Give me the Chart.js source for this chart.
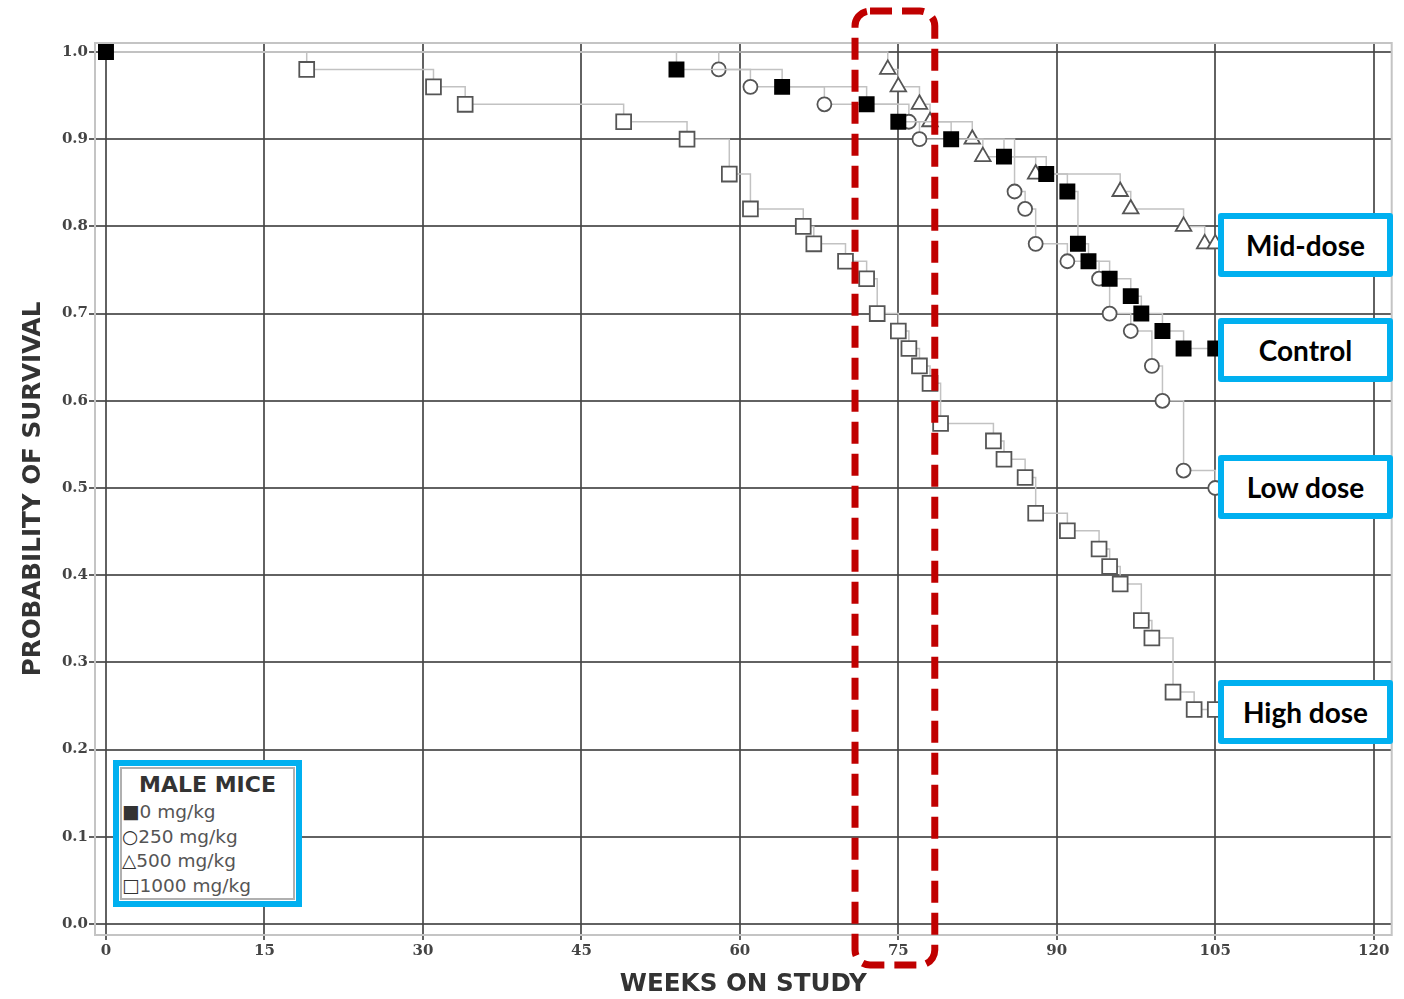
<!DOCTYPE html>
<html>
<head>
<meta charset="utf-8">
<script src="https://cdn.jsdelivr.net/npm/chart.js@4.4.1/dist/chart.umd.min.js"></script>
<style>
  body { margin: 0; background: #fff; }
  #wrap { position: relative; width: 1404px; height: 999px; }
  .tag {
    position: absolute; box-sizing: border-box; left: 1218px; width: 175px; height: 64px;
    border: 6px solid #00b0f0; border-radius: 3px; background: #fff;
    display: flex; align-items: center; justify-content: center;
    font: bold 28px Lato, "Open Sans", sans-serif; color: #000;
  }
  #legend {
    position: absolute; box-sizing: border-box; left: 113px; top: 760px; width: 189px; height: 147px;
    border: 6px solid #00b0f0; background: #fff;
  }
  #legend .inner {
    position: absolute; left: 1px; top: 1px; right: 1px; bottom: 1px; border: 2px solid #b0b0b0;
    font-family: "DejaVu Sans", sans-serif; color: #555;
  }
  #legend .lt { text-align: center; font-weight: bold; font-size: 22px; color: #333; line-height: 26px; margin: 3px 0 2px; }
  #legend .le { font-size: 18.5px; line-height: 24.5px; white-space: nowrap; }
  #legend .sym { color: #333; }
</style>
</head>
<body>
<div id="wrap">
  <canvas id="chart" width="1404" height="999"></canvas>
  <div class="tag" style="top:213px">Mid-dose</div>
  <div class="tag" style="top:318px">Control</div>
  <div class="tag" style="top:455px">Low dose</div>
  <div class="tag" style="top:680px">High dose</div>
  <div id="legend"><div class="inner"><div class="lt">MALE MICE</div></div></div>
</div>
<script>
// Kaplan-Meier survival, male mice
const seriesLabels = ['0 mg/kg', '250 mg/kg', '500 mg/kg', '1000 mg/kg'];
const legendSymbols = ['\u25A0', '\u25CB', '\u25B3', '\u25A1'];

const controlWeeks = [0, 54, 64, 72, 75, 80, 85, 89, 91, 92, 93, 95, 97, 98, 100, 102, 105];
const controlSurv  = [1.0, 0.98, 0.96, 0.94, 0.92, 0.90, 0.88, 0.86, 0.84, 0.78, 0.76, 0.74, 0.72, 0.70, 0.68, 0.66, 0.66];

const lowWeeks = [0, 58, 61, 68, 76, 77, 86, 87, 88, 91, 94, 95, 97, 99, 100, 102, 105];
const lowSurv  = [1.0, 0.98, 0.96, 0.94, 0.92, 0.90, 0.84, 0.82, 0.78, 0.76, 0.74, 0.70, 0.68, 0.64, 0.60, 0.52, 0.50];

const midWeeks = [0, 74, 75, 77, 78, 82, 83, 88, 96, 97, 102, 104, 105];
const midSurv  = [1.0, 0.98, 0.96, 0.94, 0.92, 0.90, 0.88, 0.86, 0.84, 0.82, 0.80, 0.78, 0.78];

const highWeeks = [0, 19, 31, 34, 49, 55, 59, 61, 66, 67, 70, 72, 73, 75, 76, 77, 78, 79, 84, 85, 87, 88, 91, 94, 95, 96, 98, 99, 101, 103, 105];
const highSurv  = [1.0, 0.98, 0.96, 0.94, 0.92, 0.90, 0.86, 0.82, 0.80, 0.78, 0.76, 0.74, 0.70, 0.68, 0.66, 0.64, 0.62, 0.574, 0.554, 0.533, 0.512, 0.471, 0.451, 0.430, 0.410, 0.390, 0.348, 0.328, 0.266, 0.246, 0.246];

const xTicks = [0, 15, 30, 45, 60, 75, 90, 105, 120];
const yTicks = [0, 0.1, 0.2, 0.3, 0.4, 0.5, 0.6, 0.7, 0.8, 0.9, 1.0];

// weeks covered by the red dashed highlight
const highlightWeeks = [70.9, 78.45];

const toPoints = (w, s) => w.map((x, i) => ({x: x, y: s[i]}));

// legend entries
const inner = document.querySelector('#legend .inner');
seriesLabels.forEach((lab, i) => {
  const d = document.createElement('div');
  d.className = 'le';
  d.innerHTML = '<span class="sym">' + legendSymbols[i] + '</span>' + lab;
  inner.appendChild(d);
});

const gridColor = 'rgba(70,70,70,0.85)';
const tickFont = {family: 'DejaVu Serif', weight: 'bold', size: 15};
const titleFont = {family: 'DejaVu Sans', weight: 'bold', size: 24.6};

const hideFirst = r => ctx => ctx.dataIndex === 0 && ctx.datasetIndex > 0 ? 0 : r;

const frame = {
  id: 'frame',
  beforeDatasetsDraw(chart) {
    const {ctx, chartArea: a} = chart;
    ctx.save();
    ctx.strokeStyle = '#c4c4c4';
    ctx.lineWidth = 2;
    ctx.strokeRect(a.left, a.top, a.right - a.left, a.bottom - a.top);
    ctx.restore();
  },
  afterDraw(chart) {
    const ctx = chart.ctx;
    const x1 = chart.scales.x.getPixelForValue(highlightWeeks[0]);
    const x2 = chart.scales.x.getPixelForValue(highlightWeeks[1]);
    ctx.save();
    ctx.strokeStyle = '#c00000';
    ctx.lineWidth = 7;
    ctx.setLineDash([22, 10]);
    ctx.beginPath();
    ctx.roundRect(x1, 11, x2 - x1, 954, 15);
    ctx.stroke();
    ctx.restore();
  }
};

const lineStyle = {
  stepped: 'before',
  borderColor: '#c2c2c2',
  borderWidth: 1.5,
  fill: false,
  pointBorderWidth: 1.8,
};

new Chart(document.getElementById('chart'), {
  type: 'line',
  data: {
    datasets: [
      Object.assign({}, lineStyle, {
        label: seriesLabels[0], data: toPoints(controlWeeks, controlSurv),
        pointStyle: 'rect', pointRadius: hideFirst(10), pointBackgroundColor: '#000', pointBorderColor: '#000'
      }),
      Object.assign({}, lineStyle, {
        label: seriesLabels[1], data: toPoints(lowWeeks, lowSurv),
        pointStyle: 'circle', pointRadius: hideFirst(7), pointBackgroundColor: '#fff', pointBorderColor: '#555'
      }),
      Object.assign({}, lineStyle, {
        label: seriesLabels[2], data: toPoints(midWeeks, midSurv),
        pointStyle: 'triangle', pointRadius: hideFirst(9), pointBackgroundColor: '#fff', pointBorderColor: '#555'
      }),
      Object.assign({}, lineStyle, {
        label: seriesLabels[3], data: toPoints(highWeeks, highSurv),
        pointStyle: 'rect', pointRadius: hideFirst(10.5), pointBackgroundColor: '#fff', pointBorderColor: '#555'
      })
    ]
  },
  options: {
    responsive: false,
    animation: false,
    layout: {padding: {top: 43, right: 12, left: 0, bottom: 0}},
    plugins: {legend: {display: false}, tooltip: {enabled: false}},
    scales: {
      x: {
        type: 'linear', min: -1.04, max: 121.7,
        afterFit(s) { s.height = 64; },
        afterBuildTicks(s) { s.ticks = xTicks.map(v => ({value: v})); },
        grid: {color: gridColor, lineWidth: 2, tickLength: 5},
        border: {display: false},
        ticks: {font: tickFont, color: '#444', padding: 2, maxRotation: 0, autoSkip: false},
        title: {display: true, text: 'WEEKS ON STUDY', font: titleFont, color: '#333', padding: {top: 0, bottom: 0}}
      },
      y: {
        type: 'linear', min: -0.0126, max: 1.0103,
        afterFit(s) { s.width = 95; },
        afterBuildTicks(s) { s.ticks = yTicks.map(v => ({value: v})); },
        grid: {color: gridColor, lineWidth: 2, tickLength: 6},
        border: {display: false},
        ticks: {font: tickFont, color: '#444', padding: 1, autoSkip: false, callback: v => v.toFixed(1)},
        title: {display: true, text: 'PROBABILITY OF SURVIVAL', font: titleFont, color: '#333', padding: {top: 19, bottom: 0}}
      }
    }
  },
  plugins: [frame]
});
</script>
</body>
</html>
